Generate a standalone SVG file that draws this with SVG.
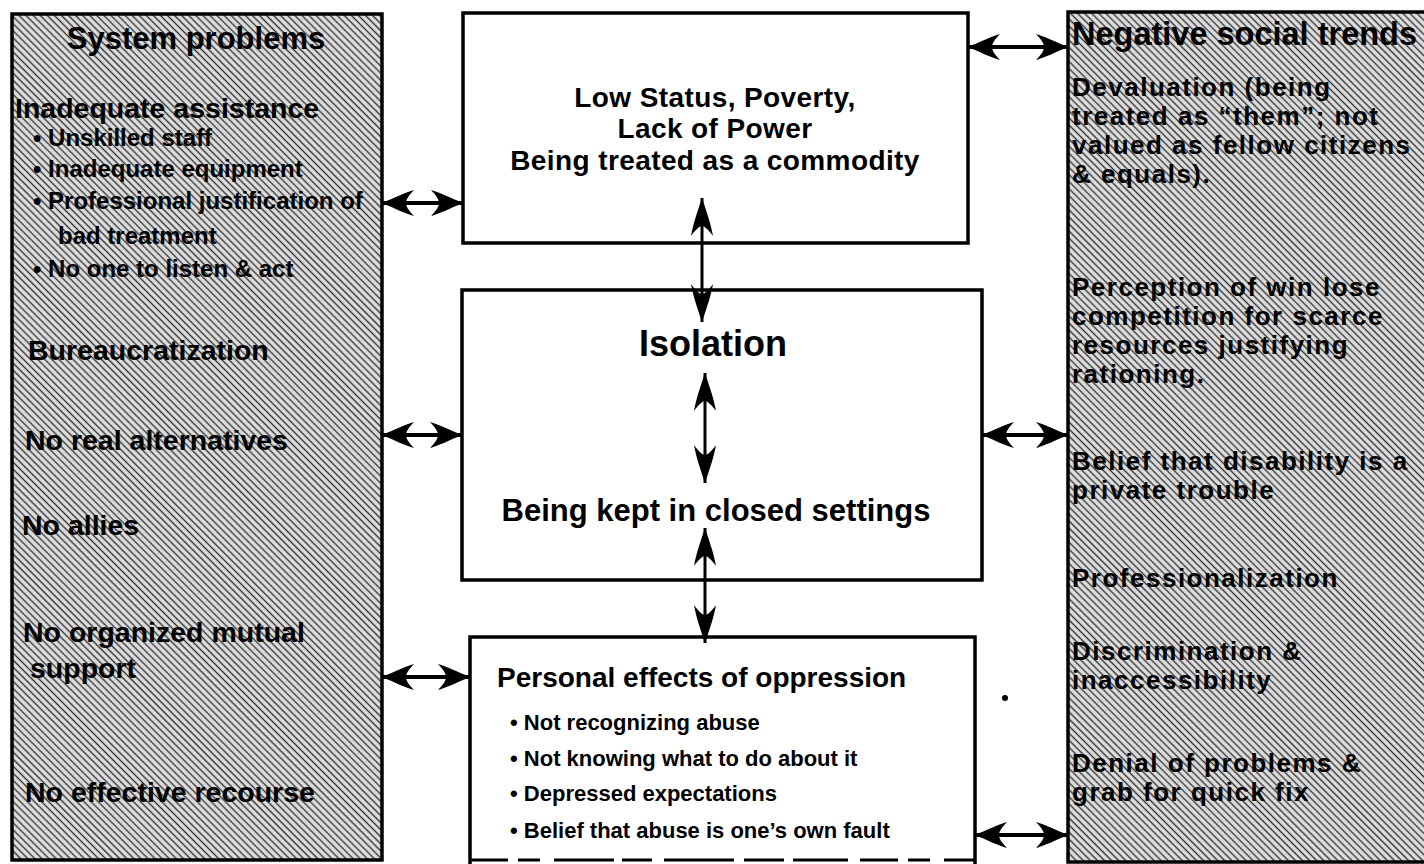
<svg xmlns="http://www.w3.org/2000/svg" width="1424" height="864" viewBox="0 0 1424 864">
<defs>
<pattern id="halftone" width="5" height="5" patternUnits="userSpaceOnUse" patternTransform="rotate(45)">
<rect width="5" height="5" fill="#e0e0e0"/>
<line x1="0" y1="2.5" x2="5" y2="2.5" stroke="#333" stroke-width="1.4"/>
</pattern>
<marker id="hh" markerUnits="userSpaceOnUse" markerWidth="38" markerHeight="28" refX="36" refY="13" orient="auto-start-reverse" viewBox="0 0 38 28">
<path d="M36 13 C24 8 12 2 4 0 C10 6 12 10 12 13 C12 16 10 20 4 26 C12 24 24 18 36 13 Z" fill="#000"/>
</marker>
<marker id="vh" markerUnits="userSpaceOnUse" markerWidth="42" markerHeight="24" refX="40" refY="11" orient="auto-start-reverse" viewBox="0 0 42 24">
<path d="M40 11 C28 7 14 2 2 0 C9 5 12 9 12 11 C12 13 9 17 2 22 C14 20 28 15 40 11 Z" fill="#000"/>
</marker>
</defs>
<style>
text{font-family:"Liberation Sans",Arial,sans-serif;font-weight:bold;fill:#000}
.panel{fill:url(#halftone);stroke:#000;stroke-width:3.5}
.box{fill:#fff;stroke:#000;stroke-width:3.5}
.hd{font-size:31px}
.lb{font-size:28.5px}
.lbul{font-size:24px}
.rb{font-size:26px;letter-spacing:1.5px}
.rhd{font-size:32.5px}
.ct{font-size:28px;letter-spacing:0.4px}
.iso{font-size:36px}
.bk{font-size:31px}
.pe{font-size:28px}
.bul{font-size:22px}
.ha{stroke:#000;stroke-width:4;fill:none;marker-start:url(#hh);marker-end:url(#hh)}
.va{stroke:#000;stroke-width:3;fill:none;marker-start:url(#vh);marker-end:url(#vh)}
</style>
<rect width="1424" height="864" fill="#fff"/>

<g id="system-problems">
<rect class="panel" x="12" y="14" width="370" height="846"/>
<text class="hd" x="196" y="49" text-anchor="middle">System problems</text>
<text class="lb" x="15" y="118">Inadequate assistance</text>
<text class="lbul" x="33" y="146">• Unskilled staff</text>
<text class="lbul" x="33" y="177">• Inadequate equipment</text>
<text class="lbul" x="33" y="209">• Professional justification of</text>
<text class="lbul" x="58" y="244">bad treatment</text>
<text class="lbul" x="33" y="277">• No one to listen &amp; act</text>
<text class="lb" x="28" y="360">Bureaucratization</text>
<text class="lb" x="25" y="450">No real alternatives</text>
<text class="lb" x="22" y="535">No allies</text>
<text class="lb" x="23" y="642">No organized mutual</text>
<text class="lb" x="30" y="678">support</text>
<text class="lb" x="25" y="802">No effective recourse</text>
</g>

<g id="negative-social-trends">
<rect class="panel" x="1068" y="12" width="360" height="850"/>
<text class="rhd" x="1072" y="45">Negative social trends</text>
<text class="rb" x="1072" y="96">Devaluation (being</text>
<text class="rb" x="1072" y="125">treated as “them”; not</text>
<text class="rb" x="1072" y="154">valued as fellow citizens</text>
<text class="rb" x="1072" y="183">&amp; equals).</text>
<text class="rb" x="1072" y="296">Perception of win lose</text>
<text class="rb" x="1072" y="325">competition for scarce</text>
<text class="rb" x="1072" y="354">resources justifying</text>
<text class="rb" x="1072" y="383">rationing.</text>
<text class="rb" x="1072" y="470">Belief that disability is a</text>
<text class="rb" x="1072" y="499">private trouble</text>
<text class="rb" x="1072" y="587">Professionalization</text>
<text class="rb" x="1072" y="660">Discrimination &amp;</text>
<text class="rb" x="1072" y="689">inaccessibility</text>
<text class="rb" x="1072" y="772">Denial of problems &amp;</text>
<text class="rb" x="1072" y="801">grab for quick fix</text>
</g>

<g id="low-status">
<rect class="box" x="463" y="13" width="505" height="230"/>
<text class="ct" x="715" y="107" text-anchor="middle">Low Status, Poverty,</text>
<text class="ct" x="715" y="138" text-anchor="middle">Lack of Power</text>
<text class="ct" x="715" y="170" text-anchor="middle">Being treated as a commodity</text>
</g>

<g id="isolation">
<rect class="box" x="462" y="290" width="520" height="290"/>
<text class="iso" x="713" y="356" text-anchor="middle">Isolation</text>
<text class="bk" x="716" y="521" text-anchor="middle">Being kept in closed settings</text>
</g>

<g id="personal-effects">
<path d="M470 864 V637 H975 V864" fill="#fff" stroke="#000" stroke-width="3.5"/>
<line x1="470" y1="860" x2="975" y2="860" stroke="#000" stroke-width="3" stroke-dasharray="38 10 22 14 60 8 30 12 70 10 40 9 55 12"/>
<text class="pe" x="497" y="687">Personal effects of oppression</text>
<text class="bul" x="510" y="730">• Not recognizing abuse</text>
<text class="bul" x="510" y="766">• Not knowing what to do about it</text>
<text class="bul" x="510" y="801">• Depressed expectations</text>
<text class="bul" x="510" y="838">• Belief that abuse is one’s own fault</text>
</g>

<g id="connectors">
<line class="ha" x1="382" y1="203" x2="463" y2="203"/>
<line class="ha" x1="382" y1="435" x2="462" y2="435"/>
<line class="ha" x1="382" y1="677" x2="470" y2="677"/>
<line class="ha" x1="968" y1="47" x2="1068" y2="47"/>
<line class="ha" x1="982" y1="435" x2="1068" y2="435"/>
<line class="ha" x1="975" y1="835" x2="1068" y2="835"/>
<line class="va" x1="702" y1="198" x2="702" y2="322"/>
<line class="va" x1="705" y1="373" x2="705" y2="483"/>
<line class="va" x1="705" y1="528" x2="705" y2="643"/>
<circle cx="1005" cy="698" r="3" fill="#000"/>
</g>
</svg>
